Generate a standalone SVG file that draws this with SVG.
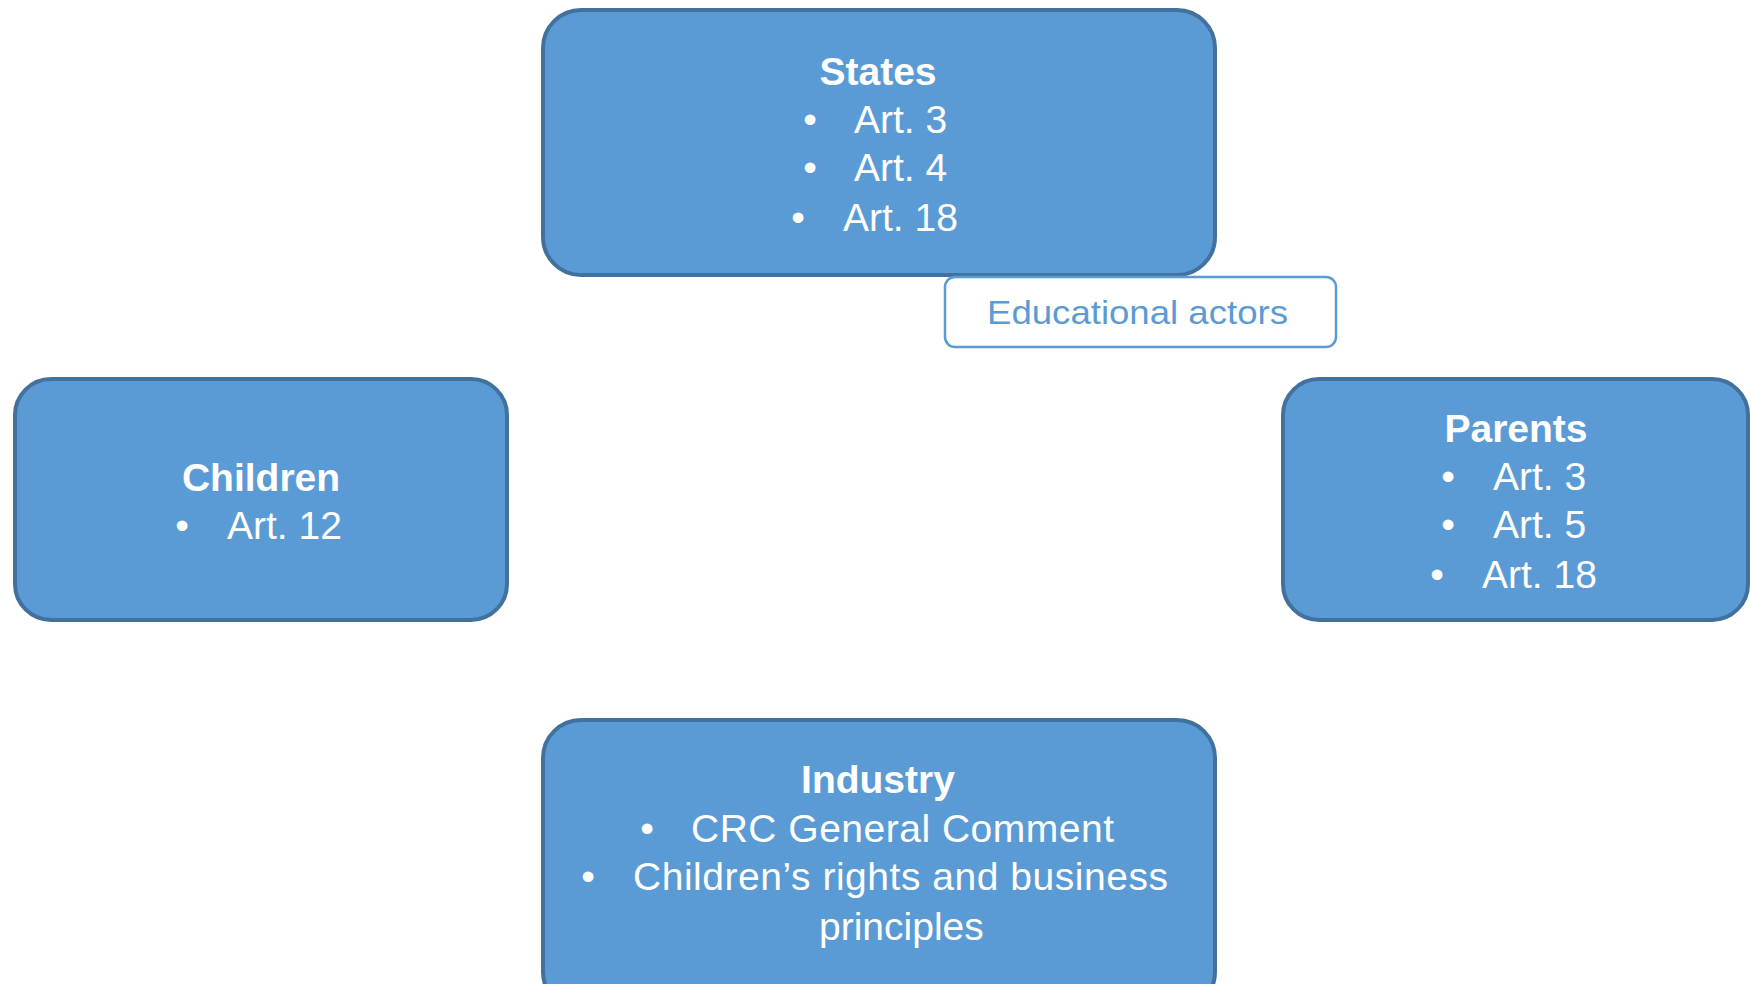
<svg xmlns="http://www.w3.org/2000/svg" width="1751" height="984" viewBox="0 0 1751 984">
<style>
.box{fill:#5B9BD5;stroke:#41719C;stroke-width:4}
.t{font-family:"Liberation Sans",Arial,sans-serif;font-size:39px;fill:#FFFFFF}
.b{font-weight:bold;text-anchor:middle}
.bul{text-anchor:middle}
.ed{fill:#FFFFFF;stroke:#5B9BD5;stroke-width:2.5}
.edt{font-family:"Liberation Sans",Arial,sans-serif;font-size:34px;fill:#5B9BD5}
</style>
<rect width="1751" height="984" fill="#FFFFFF"/>
<g id="connectors"></g>
<g id="states">
<rect class="box" x="543" y="10" width="672" height="265" rx="38"/>
<text class="t b" x="878" y="85">States</text>
<text class="t bul" x="810" y="133">•</text><text class="t" x="854" y="133">Art. 3</text>
<text class="t bul" x="810" y="181">•</text><text class="t" x="854" y="181">Art. 4</text>
<text class="t bul" x="798" y="231">•</text><text class="t" x="843" y="231">Art. 18</text>
</g>
<g id="educational-actors">
<rect class="ed" x="945" y="277" width="391" height="70" rx="10"/>
<text class="edt" x="987" y="324" textLength="301" lengthAdjust="spacingAndGlyphs">Educational  actors</text>
</g>
<g id="children">
<rect class="box" x="15" y="379" width="492" height="241" rx="36"/>
<text class="t b" x="261" y="491">Children</text>
<text class="t bul" x="182" y="539">•</text><text class="t" x="227" y="539">Art. 12</text>
</g>
<g id="parents">
<rect class="box" x="1283" y="379" width="465" height="241" rx="36"/>
<text class="t b" x="1516" y="442">Parents</text>
<text class="t bul" x="1448" y="490">•</text><text class="t" x="1493" y="490">Art. 3</text>
<text class="t bul" x="1448" y="538">•</text><text class="t" x="1493" y="538">Art. 5</text>
<text class="t bul" x="1437" y="588">•</text><text class="t" x="1482" y="588">Art. 18</text>
</g>
<g id="industry">
<rect class="box" x="543" y="720" width="672" height="290" rx="38"/>
<text class="t b" x="878" y="793">Industry</text>
<text class="t bul" x="647" y="842">•</text><text class="t" x="691" y="842" textLength="423" lengthAdjust="spacing">CRC General  Comment</text>
<text class="t bul" x="588" y="890">•</text><text class="t" x="633" y="890" textLength="535" lengthAdjust="spacing">Children’s  rights  and business</text>
<text class="t" x="819" y="940">principles</text>
</g>
</svg>
